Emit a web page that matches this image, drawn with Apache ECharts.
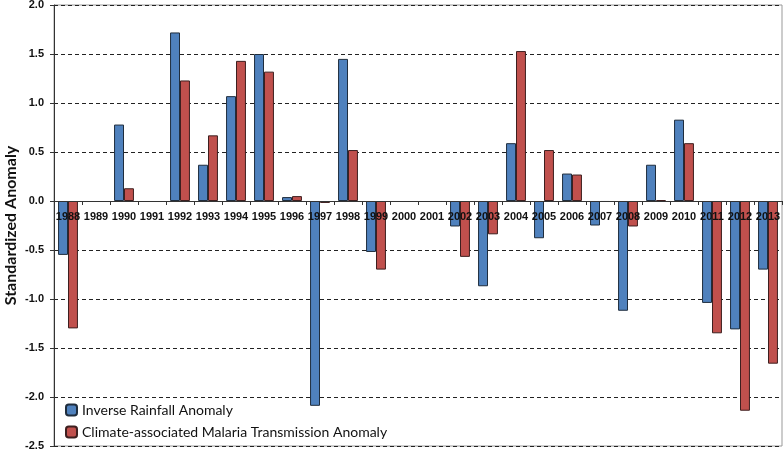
<!DOCTYPE html>
<html><head><meta charset="utf-8">
<script src="https://cdn.jsdelivr.net/npm/echarts@6/dist/echarts.min.js"></script>
<style>html,body{margin:0;padding:0;background:#fff}#c{width:784px;height:450px}</style>
</head><body><div id="c"></div>
<script>
const years = ['1988','1989','1990','1991','1992','1993','1994','1995','1996','1997','1998','1999','2000','2001','2002','2003','2004','2005','2006','2007','2008','2009','2010','2011','2012','2013'];
const inverseRainfall = [-0.55,null,0.78,null,1.72,0.37,1.07,1.50,0.04,-2.09,1.45,-0.52,null,null,-0.26,-0.87,0.59,-0.38,0.28,-0.25,-1.12,0.37,0.83,-1.04,-1.31,-0.70];
const malariaAnomaly = [-1.30,null,0.13,null,1.23,0.67,1.43,1.32,0.05,-0.02,0.52,-0.70,null,null,-0.57,-0.34,1.53,0.52,0.27,-0.01,-0.26,0.01,0.59,-1.35,-2.14,-1.66];
const seriesNames = ['Inverse Rainfall Anomaly','Climate-associated Malaria Transmission Anomaly'];
const yMin = -2.5, yMax = 2, yStep = 0.5;

const W = 784, H = 450;
const gridTop = 5, gridBottom = 4;
const gridH = H - gridTop - gridBottom;
// place the category axis at the value 0 line
const zeroOffset = -gridH * (0 - yMin) / (yMax - yMin);

const chart = echarts.init(document.getElementById('c'));
chart.setOption({
  animation:false,
  backgroundColor:'#fff',
  grid:{left:54,right:2,top:gridTop,bottom:gridBottom,show:true,borderColor:'#999',borderWidth:1,outerBoundsMode:'none',containLabel:false},
  legend:{
    orient:'vertical',left:60,top:398,itemWidth:11,itemHeight:11,itemGap:8,
    textStyle:{fontFamily:'Lato',fontSize:14,color:'#111'},
    data:seriesNames
  },
  xAxis:{
    type:'category',data:years,z:10,offset:zeroOffset,
    axisLine:{onZero:false,lineStyle:{color:'#333',width:1}},
    axisTick:{show:true,length:4,inside:false,lineStyle:{color:'#333'}},
    axisLabel:{interval:0,margin:10,fontFamily:'Liberation Sans',fontWeight:'bold',fontSize:11,color:'#111'}
  },
  yAxis:{
    type:'value',min:yMin,max:yMax,interval:yStep,
    name:'Standardized Anomaly',nameLocation:'middle',nameGap:35,nameMoveOverlap:false,
    nameTextStyle:{fontFamily:'Lato',fontSize:16,fontWeight:'bold',color:'#111'},
    axisLine:{show:true,lineStyle:{color:'#333'}},
    axisTick:{show:true,length:4,lineStyle:{color:'#333'}},
    axisLabel:{formatter:v=>v.toFixed(1),fontFamily:'Liberation Sans',fontWeight:'bold',fontSize:11,color:'#111',margin:10},
    splitLine:{show:true,lineStyle:{color:'#222',type:[4,3],width:1}}
  },
  series:[
    {name:seriesNames[0],type:'bar',data:inverseRainfall,barGap:'0%',barCategoryGap:'29%',
     itemStyle:{color:'#4F81BD',borderColor:'#1f2d3d',borderWidth:1}},
    {name:seriesNames[1],type:'bar',data:malariaAnomaly,barGap:'0%',barCategoryGap:'29%',
     itemStyle:{color:'#C0504D',borderColor:'#3d1f1f',borderWidth:1}}
  ]
});
</script></body></html>
